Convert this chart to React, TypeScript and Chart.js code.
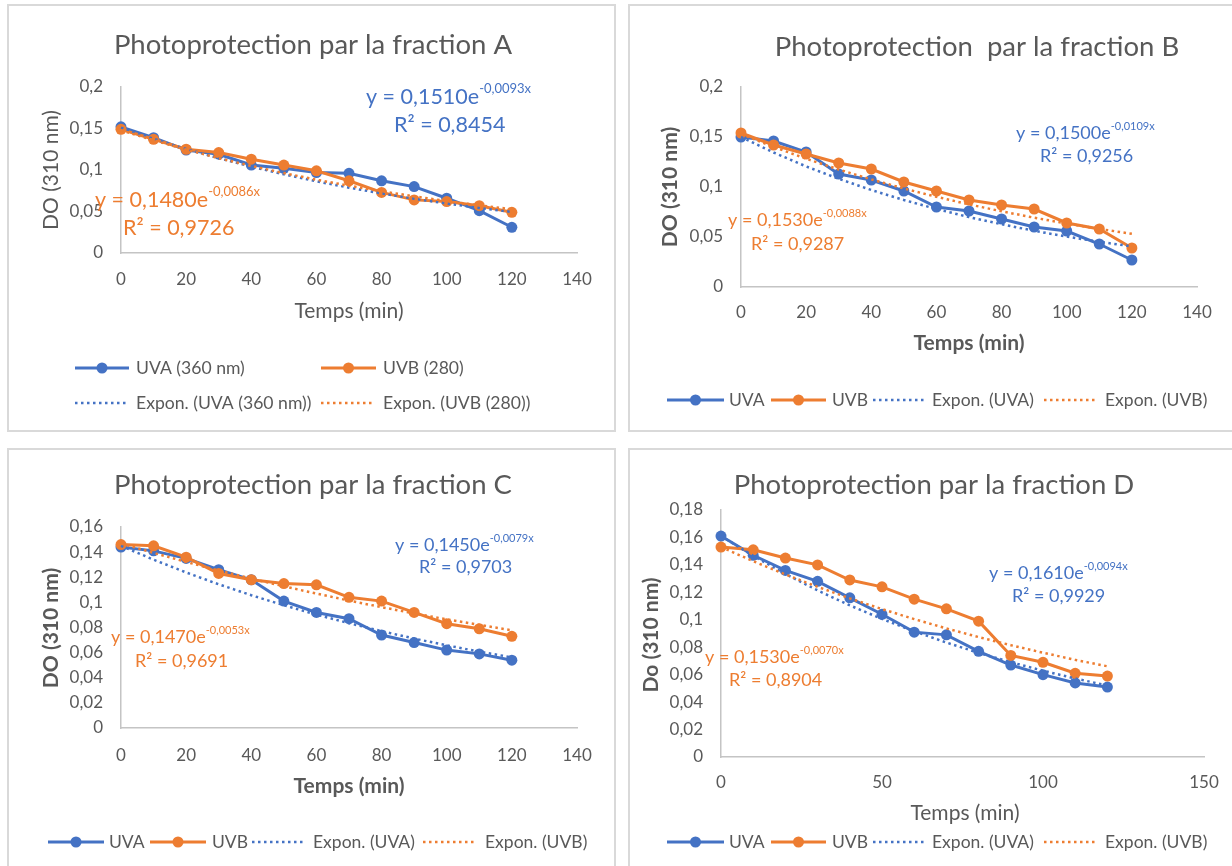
import React, { useEffect, useRef } from 'react';
import { Chart, registerables } from 'chart.js';

Chart.register(...registerables);

// ---------------- DATA ----------------
const times = [0, 10, 20, 30, 40, 50, 60, 70, 80, 90, 100, 110, 120];

// Fraction A
const uvaA = [0.152, 0.139, 0.124, 0.119, 0.106, 0.102, 0.097, 0.096, 0.087, 0.080, 0.066, 0.051, 0.031];
const uvbA = [0.149, 0.137, 0.125, 0.121, 0.113, 0.106, 0.099, 0.087, 0.073, 0.064, 0.062, 0.057, 0.049];
const trendUvaA = [0.1510, 0.1376, 0.1254, 0.1142, 0.1041, 0.0948, 0.0864, 0.0787, 0.0718, 0.0654, 0.0596, 0.0543, 0.0495];
const trendUvbA = [0.1480, 0.1358, 0.1246, 0.1143, 0.1049, 0.0963, 0.0883, 0.0811, 0.0744, 0.0683, 0.0626, 0.0575, 0.0527];

// Fraction B
const uvaB = [0.150, 0.146, 0.135, 0.113, 0.107, 0.096, 0.080, 0.076, 0.068, 0.060, 0.056, 0.043, 0.027];
const uvbB = [0.154, 0.142, 0.133, 0.124, 0.118, 0.105, 0.096, 0.087, 0.082, 0.078, 0.064, 0.058, 0.039];
const trendUvaB = [0.1500, 0.1345, 0.1206, 0.1082, 0.0970, 0.0870, 0.0780, 0.0699, 0.0627, 0.0562, 0.0504, 0.0452, 0.0406];
const trendUvbB = [0.1530, 0.1401, 0.1283, 0.1175, 0.1076, 0.0985, 0.0902, 0.0826, 0.0757, 0.0693, 0.0635, 0.0581, 0.0532];

// Fraction C
const uvaC = [0.144, 0.141, 0.135, 0.126, 0.118, 0.101, 0.092, 0.087, 0.074, 0.068, 0.062, 0.059, 0.054];
const uvbC = [0.146, 0.145, 0.136, 0.123, 0.118, 0.115, 0.114, 0.104, 0.101, 0.092, 0.083, 0.079, 0.073];
const trendUvaC = [0.1450, 0.1340, 0.1238, 0.1144, 0.1057, 0.0977, 0.0903, 0.0834, 0.0771, 0.0712, 0.0658, 0.0608, 0.0562];
const trendUvbC = [0.1470, 0.1394, 0.1322, 0.1254, 0.1189, 0.1128, 0.1070, 0.1014, 0.0962, 0.0912, 0.0865, 0.0821, 0.0778];

// Fraction D
const uvaD = [0.161, 0.147, 0.136, 0.128, 0.116, 0.104, 0.091, 0.089, 0.077, 0.067, 0.060, 0.054, 0.051];
const uvbD = [0.153, 0.151, 0.145, 0.140, 0.129, 0.124, 0.115, 0.108, 0.099, 0.074, 0.069, 0.061, 0.059];
const trendUvaD = [0.1610, 0.1466, 0.1334, 0.1214, 0.1105, 0.1006, 0.0916, 0.0834, 0.0759, 0.0691, 0.0629, 0.0572, 0.0521];
const trendUvbD = [0.1530, 0.1427, 0.1330, 0.1240, 0.1156, 0.1078, 0.1005, 0.0937, 0.0874, 0.0815, 0.0760, 0.0708, 0.0661];

// Texts
const titles = [
  'Photoprotection par la fraction A',
  'Photoprotection  par la fraction B',
  'Photoprotection par la fraction C',
  'Photoprotection par la fraction D',
];
const xTitle = 'Temps (min)';
const yTitles = ['DO (310 nm)', 'DO (310 nm)', 'DO (310 nm)', 'Do (310 nm)'];
const legendLabelsA = ['UVA (360 nm)', 'UVB (280)', 'Expon. (UVA (360 nm))', 'Expon. (UVB (280))'];
const legendLabels = ['UVA', 'UVB', 'Expon. (UVA)', 'Expon. (UVB)'];

// equations: [base, exponent, r2]
const eqUvaA = ['y = 0,1510e', '-0,0093x', 'R² = 0,8454'];
const eqUvbA = ['y = 0,1480e', '-0,0086x', 'R² = 0,9726'];
const eqUvaB = ['y = 0,1500e', '-0,0109x', 'R² = 0,9256'];
const eqUvbB = ['y = 0,1530e', '-0,0088x', 'R² = 0,9287'];
const eqUvaC = ['y = 0,1450e', '-0,0079x', 'R² = 0,9703'];
const eqUvbC = ['y = 0,1470e', '-0,0053x', 'R² = 0,9691'];
const eqUvaD = ['y = 0,1610e', '-0,0094x', 'R² = 0,9929'];
const eqUvbD = ['y = 0,1530e', '-0,0070x', 'R² = 0,8904'];

// ---------------- STYLE ----------------
const BLUE = '#4472C4';
const ORANGE = '#ED7D31';
const TEXT = '#595959';
const FONT = 'Lato';
const TITLE_SIZE = 27.5;
const AXIS_TITLE_SIZE = 21;
const TICK_SIZE = 17;

type Leg = { kind: 'series' | 'trend'; color: string; x1: number; x2: number; y: number; tx: number; text: string };

const makeLegend = (labels: string[], rows: number[][]): Leg[] =>
  labels.map((text, i) => ({
    kind: i < 2 ? 'series' : 'trend',
    color: i % 2 === 0 ? BLUE : ORANGE,
    x1: rows[i][0],
    x2: rows[i][1],
    y: rows[i][2],
    tx: rows[i][3],
    text,
  }));

const panels = [
  {
    id: 'A',
    box: { x: 7, y: 4, w: 609, h: 428 },
    area: { l: 121, r: 577, t: 87, b: 253 },
    xMax: 140, xStep: 20, yMax: 0.2, yStep: 0.05, xPad: 16, yPad: 18,
    uva: uvaA, uvb: uvbA, tUva: trendUvaA, tUvb: trendUvbA,
    title: { text: titles[0], x: 313, y: 45 },
    xt: { x: 349, y: 311, weight: 400 },
    yt: { text: yTitles[0], x: 51, y: 170, weight: 400 },
    legendSize: 17.6,
    eqs: [
      { eq: eqUvaA, color: BLUE, x: 366, y: 97, rx: 394, ry: 125, size: 21.5 },
      { eq: eqUvbA, color: ORANGE, x: 95, y: 200, rx: 123, ry: 228, size: 21.5 },
    ],
    legend: makeLegend(legendLabelsA, [
      [75, 129, 368, 136], [321, 376, 368, 383], [75, 126, 403, 136], [321, 372, 403, 383],
    ]),
  },
  {
    id: 'B',
    box: { x: 628, y: 4, w: 612, h: 428 },
    area: { l: 741, r: 1197, t: 87, b: 287 },
    xMax: 140, xStep: 20, yMax: 0.2, yStep: 0.05, xPad: 15, yPad: 18,
    uva: uvaB, uvb: uvbB, tUva: trendUvaB, tUvb: trendUvbB,
    title: { text: titles[1], x: 977, y: 47 },
    xt: { x: 969, y: 343, weight: 700 },
    yt: { text: yTitles[1], x: 670, y: 187, weight: 700 },
    legendSize: 17.5,
    eqs: [
      { eq: eqUvaB, color: BLUE, x: 1016, y: 133, rx: 1040, ry: 156, size: 18 },
      { eq: eqUvbB, color: ORANGE, x: 728, y: 220, rx: 751, ry: 244, size: 18 },
    ],
    legend: makeLegend(legendLabels, [
      [667, 724, 400, 729], [771, 826, 400, 832], [873, 924, 400, 932], [1044, 1095, 400, 1105],
    ]),
  },
  {
    id: 'C',
    box: { x: 7, y: 448, w: 609, h: 430 },
    area: { l: 121, r: 577, t: 527, b: 728 },
    xMax: 140, xStep: 20, yMax: 0.16, yStep: 0.02, xPad: 17, yPad: 18,
    uva: uvaC, uvb: uvbC, tUva: trendUvaC, tUvb: trendUvbC,
    title: { text: titles[2], x: 313, y: 485 },
    xt: { x: 349, y: 786, weight: 700 },
    yt: { text: yTitles[2], x: 51, y: 628, weight: 700 },
    legendSize: 17.5,
    eqs: [
      { eq: eqUvaC, color: BLUE, x: 395, y: 545, rx: 419, ry: 567, size: 18 },
      { eq: eqUvbC, color: ORANGE, x: 111, y: 637, rx: 135, ry: 661, size: 18 },
    ],
    legend: makeLegend(legendLabels, [
      [48, 104, 842, 109], [150, 206, 842, 212], [252, 304, 842, 313], [423, 476, 842, 485],
    ]),
  },
  {
    id: 'D',
    box: { x: 628, y: 448, w: 612, h: 430 },
    area: { l: 721, r: 1204, t: 510, b: 757 },
    xMax: 150, xStep: 50, yMax: 0.18, yStep: 0.02, xPad: 15, yPad: 18,
    uva: uvaD, uvb: uvbD, tUva: trendUvaD, tUvb: trendUvbD,
    title: { text: titles[3], x: 934, y: 485 },
    xt: { x: 965, y: 813, weight: 400 },
    yt: { text: yTitles[3], x: 651, y: 635, weight: 700 },
    legendSize: 17.5,
    eqs: [
      { eq: eqUvaD, color: BLUE, x: 989, y: 573, rx: 1012, ry: 596, size: 18 },
      { eq: eqUvbD, color: ORANGE, x: 705, y: 657, rx: 729, ry: 680, size: 18 },
    ],
    legend: makeLegend(legendLabels, [
      [667, 724, 842, 729], [771, 826, 842, 832], [873, 924, 842, 932], [1044, 1095, 842, 1105],
    ]),
  },
];

type PanelCfg = (typeof panels)[number];

const fmt = (v: number) => String(Math.round(v * 100) / 100).replace('.', ',');

function makeExtras(p: PanelCfg) {
  return {
    id: 'extras' + p.id,
    afterDraw(chart: any) {
      const ctx: CanvasRenderingContext2D = chart.ctx;
      ctx.save();
      ctx.translate(-p.box.x, -p.box.y);
      ctx.textBaseline = 'middle';

      // title
      ctx.fillStyle = TEXT;
      ctx.textAlign = 'center';
      ctx.font = `400 ${TITLE_SIZE}px ${FONT}`;
      ctx.fillText(p.title.text, p.title.x, p.title.y);

      // x title
      ctx.font = `${p.xt.weight} ${AXIS_TITLE_SIZE}px ${FONT}`;
      ctx.fillText(xTitle, p.xt.x, p.xt.y);

      // y title
      ctx.save();
      ctx.translate(p.yt.x, p.yt.y);
      ctx.rotate(-Math.PI / 2);
      ctx.font = `${p.yt.weight} ${AXIS_TITLE_SIZE}px ${FONT}`;
      ctx.fillText(p.yt.text, 0, 0);
      ctx.restore();

      // trendline equations
      ctx.textAlign = 'left';
      for (const e of p.eqs) {
        ctx.fillStyle = e.color;
        ctx.font = `400 ${e.size}px ${FONT}`;
        ctx.fillText(e.eq[0], e.x, e.y);
        const w = ctx.measureText(e.eq[0]).width;
        ctx.font = `400 ${Math.round(e.size * 0.62)}px ${FONT}`;
        ctx.fillText(e.eq[1], e.x + w, e.y - e.size * 0.38);
        ctx.font = `400 ${e.size}px ${FONT}`;
        ctx.fillText(e.eq[2], e.rx, e.ry);
      }

      // legend
      for (const it of p.legend) {
        ctx.strokeStyle = it.color;
        ctx.fillStyle = it.color;
        ctx.beginPath();
        if (it.kind === 'series') {
          ctx.setLineDash([]);
          ctx.lineWidth = 3;
        } else {
          ctx.setLineDash([2.5, 3.5]);
          ctx.lineWidth = 2.5;
        }
        ctx.moveTo(it.x1, it.y);
        ctx.lineTo(it.x2, it.y);
        ctx.stroke();
        ctx.setLineDash([]);
        if (it.kind === 'series') {
          ctx.beginPath();
          ctx.arc((it.x1 + it.x2) / 2, it.y, 5.5, 0, Math.PI * 2);
          ctx.fill();
        }
        ctx.fillStyle = TEXT;
        ctx.font = `400 ${p.legendSize}px ${FONT}`;
        ctx.fillText(it.text, it.tx, it.y);
      }
      ctx.restore();
    },
  };
}

const pts = (arr: number[]) => times.map((t, i) => ({ x: t, y: arr[i] }));

const Y_AXIS_GAP = 4; // canvas space left of the y-axis box
const X_AXIS_H = 44; // height reserved for x tick labels

function Panel({ p }: { p: PanelCfg }) {
  const ref = useRef<HTMLCanvasElement | null>(null);
  useEffect(() => {
    if (!ref.current) return;
    const trend = (arr: number[], color: string, label: string) => ({
      label,
      data: pts(arr),
      borderColor: color,
      backgroundColor: color,
      borderWidth: 2.5,
      borderDash: [2.5, 3.5],
      pointRadius: 0,
      fill: false,
      tension: 0,
      clip: false as const,
    });
    const series = (arr: number[], color: string, label: string) => ({
      label,
      data: pts(arr),
      borderColor: color,
      backgroundColor: color,
      borderWidth: 3,
      pointRadius: 5.5,
      pointBackgroundColor: color,
      pointBorderColor: color,
      pointBorderWidth: 0,
      fill: false,
      tension: 0,
      clip: false as const,
    });
    const yAxisW = p.area.l - p.box.x - Y_AXIS_GAP;
    const chart = new Chart(ref.current, {
      type: 'line',
      data: {
        datasets: [
          trend(p.tUvb, ORANGE, 'Expon. (UVB)'),
          trend(p.tUva, BLUE, 'Expon. (UVA)'),
          series(p.uvb, ORANGE, 'UVB'),
          series(p.uva, BLUE, 'UVA'),
        ],
      },
      options: {
        responsive: false,
        animation: false,
        events: [],
        layout: {
          padding: {
            left: Y_AXIS_GAP,
            top: p.area.t - p.box.y,
            right: p.box.x + p.box.w - p.area.r,
            bottom: p.box.y + p.box.h - p.area.b - X_AXIS_H,
          },
        },
        plugins: {
          legend: { display: false },
          title: { display: false },
          tooltip: { enabled: false },
        },
        scales: {
          x: {
            type: 'linear',
            min: 0,
            max: p.xMax,
            ticks: {
              stepSize: p.xStep,
              autoSkip: false,
              maxRotation: 0,
              color: TEXT,
              padding: p.xPad,
              font: { family: FONT, size: TICK_SIZE },
            },
            grid: { display: false, drawTicks: false },
            border: { display: true, color: '#c4c4c4', width: 1.5 },
            afterFit: (s: any) => {
              s.height = X_AXIS_H;
            },
          },
          y: {
            type: 'linear',
            min: 0,
            max: p.yMax,
            ticks: {
              stepSize: p.yStep,
              color: TEXT,
              padding: p.yPad,
              font: { family: FONT, size: TICK_SIZE },
              callback: (v: any) => fmt(Number(v)),
            },
            grid: { display: false, drawTicks: false },
            border: { display: true, color: '#c4c4c4', width: 1.5 },
            afterFit: (s: any) => {
              s.width = yAxisW;
            },
          },
        },
      },
      plugins: [makeExtras(p)],
    } as any);
    return () => chart.destroy();
  }, []);
  return (
    <div style={{ position: 'absolute', left: p.box.x, top: p.box.y, width: p.box.w, height: p.box.h }}>
      <canvas
        ref={ref}
        width={p.box.w}
        height={p.box.h}
        style={{ position: 'absolute', left: 0, top: 0, width: p.box.w, height: p.box.h }}
      />
      <div
        style={{
          position: 'absolute',
          left: 0,
          top: 0,
          width: p.box.w,
          height: p.box.h,
          border: '2px solid #d9d9d9',
          boxSizing: 'border-box',
          pointerEvents: 'none',
        }}
      />
    </div>
  );
}

export default function App() {
  return (
    <div
      style={{
        position: 'absolute',
        left: 0,
        top: 0,
        width: 1232,
        height: 866,
        overflow: 'hidden',
        background: '#ffffff',
      }}
    >
      {panels.map((p) => (
        <Panel key={p.id} p={p} />
      ))}
    </div>
  );
}
